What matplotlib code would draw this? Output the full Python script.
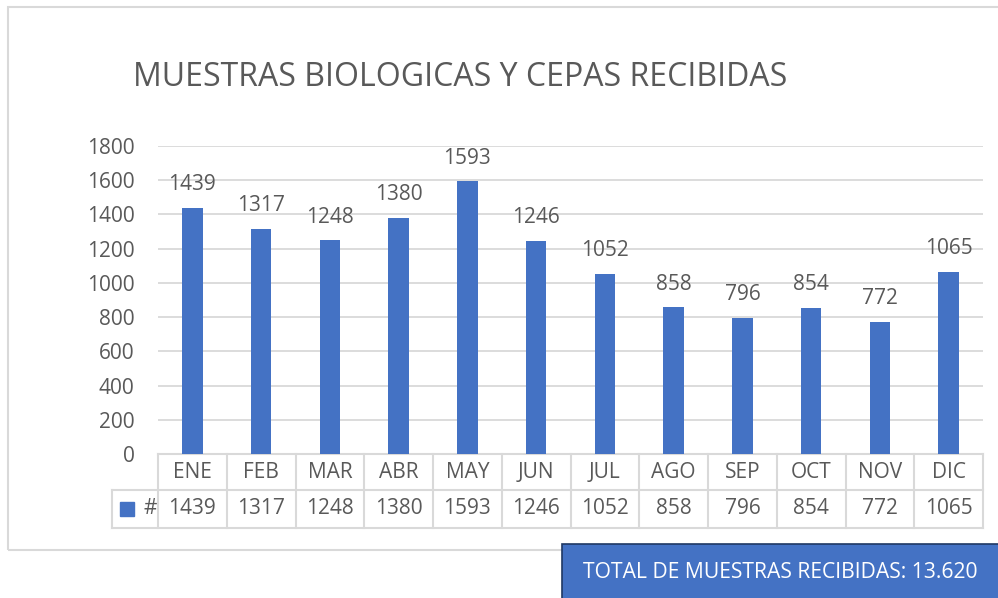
import matplotlib.pyplot as plt
from matplotlib.patches import Rectangle

meses = ['ENE', 'FEB', 'MAR', 'ABR', 'MAY', 'JUN', 'JUL', 'AGO', 'SEP', 'OCT', 'NOV', 'DIC']
muestras = [1439, 1317, 1248, 1380, 1593, 1246, 1052, 858, 796, 854, 772, 1065]
yticks = [0, 200, 400, 600, 800, 1000, 1200, 1400, 1600, 1800]
titulo = 'MUESTRAS BIOLOGICAS Y CEPAS RECIBIDAS'
total_txt = 'TOTAL DE MUESTRAS RECIBIDAS: 13.620'

plt.rcParams['font.family'] = ['Open Sans', 'DejaVu Sans']
azul = '#4472C4'
gris = '#595959'
linea = '#d9d9d9'
fs = 15

W, H = 998, 598
fig = plt.figure(figsize=(W/100, H/100), dpi=100)

# chart border
fig.patches.append(Rectangle((8/W, 1-550/H), (W-8)/W + 0.01, (550-7)/H, transform=fig.transFigure,
                             fill=False, edgecolor=linea, lw=1.5))

left, right, top, bot = 158, 983, 146, 454
ax = fig.add_axes([left/W, 1-bot/H, (right-left)/W, (bot-top)/H])
x = list(range(len(meses)))
ax.bar(x, muestras, width=0.3, color=azul, zorder=3)
ax.set_xlim(-0.5, 11.5)
ax.set_ylim(0, 1800)
ax.set_yticks(yticks)
ax.set_yticklabels([str(v) for v in yticks], fontsize=fs, color=gris)
ax.tick_params(axis='y', length=0, pad=17)
ax.set_xticks([])
for s in ax.spines.values():
    s.set_visible(False)
ax.grid(axis='y', color=linea, lw=1.3, zorder=0)

for xi, v in zip(x, muestras):
    ax.annotate(str(v), (xi, v), xytext=(0, 9), textcoords='offset points',
                ha='center', va='bottom', fontsize=fs, color=gris)

# data table below axis
ph = bot - top
r1 = -36/ph
r2 = -74/ph
leg_left = -0.5 - (157-111)/((right-left)/12)
tr = ax.get_xaxis_transform()
kw = dict(color=linea, lw=1.5, transform=tr, clip_on=False)
ax.plot([-0.5, 11.5], [0, 0], **kw)
ax.plot([leg_left, 11.5], [r1, r1], **kw)
ax.plot([leg_left, 11.5], [r2, r2], **kw)
for i in range(13):
    ax.plot([i-0.5, i-0.5], [0, r2], **kw)
ax.plot([leg_left, leg_left], [r1, r2], **kw)
for xi, m, v in zip(x, meses, muestras):
    ax.text(xi, r1/2, m, transform=tr, ha='center', va='center', fontsize=fs, color=gris)
    ax.text(xi, (r1+r2)/2, str(v), transform=tr, ha='center', va='center', fontsize=fs, color=gris)
ax.add_patch(Rectangle((leg_left+0.12, (r1+r2)/2 - 7/ph), 0.2, 14/ph, transform=tr,
                       color=azul, clip_on=False))
ax.text(leg_left+0.46, (r1+r2)/2, '#', transform=tr, ha='left', va='center', fontsize=fs, color=gris)

fig.text(133/W, 1-78/H, titulo, fontsize=23, color=gris, ha='left', va='center')

# total box
fig.patches.append(Rectangle((562/W, -0.01), (W-562)/W + 0.02, (H-544)/H + 0.01, transform=fig.transFigure,
                             facecolor=azul, edgecolor='#1f3864', lw=1.2))
fig.text((562+W)/2/W, 1-572/H, total_txt, fontsize=15.2, color='white', ha='center', va='center')

fig.savefig('out.png', dpi=100)
